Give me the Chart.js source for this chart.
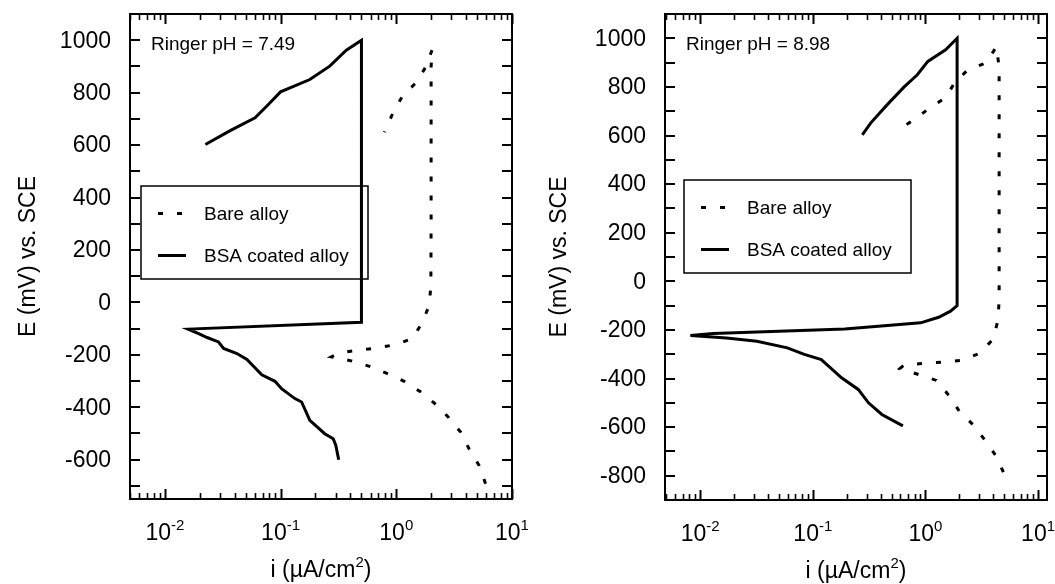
<!DOCTYPE html>
<html>
<head>
<meta charset="utf-8">
<title>Polarization curves in Ringer solution</title>
<script src="https://cdn.jsdelivr.net/npm/chart.js@4.4.0/dist/chart.umd.min.js"></script>
<style>
  html, body { margin: 0; padding: 0; background: #fff; }
  body { width: 1055px; height: 584px; position: relative; overflow: hidden; }
  canvas { position: absolute; top: 0; }
  #left { left: 0; }
  #right { left: 528px; }
</style>
</head>
<body>
<canvas id="left" width="528" height="584"></canvas>
<canvas id="right" width="527" height="584"></canvas>
<script>
// Ringer pH = 7.49
const bareI749 = [5.91, 5.19, 4.26, 3.6, 2.82, 2.2, 1.63, 1.17, 0.84, 0.588, 0.408, 0.275,
                  0.324, 0.466, 0.69, 1.0, 1.38, 1.69, 1.93, 1.99, 2.0, 2.0, 2.0, 2.05,
                  1.78, 1.48, 1.12, 0.93, 0.79];
const bareE749 = [-692, -622, -559, -495, -438, -389, -342, -301, -272, -244, -223, -208,
                  -193, -182, -174, -160, -138, -74, -10, 66, 300, 600, 900, 965,
                  895, 838, 784, 720, 649];
const bsaI749 = [0.318, 0.3, 0.285, 0.241, 0.179, 0.152, 0.133, 0.102, 0.0895, 0.0688, 0.0512,
                 0.042, 0.0322, 0.0291, 0.0232, 0.0196, 0.0159, 0.5, 0.5, 0.37, 0.266,
                 0.179, 0.1, 0.0758, 0.0602, 0.0367, 0.0224];
const bsaE749 = [-600, -545, -520, -501, -450, -380, -367, -329, -301, -276, -218,
                 -195, -176, -151, -134, -119, -102, -76, 1000, 962, 901,
                 850, 803, 748, 704, 655, 602];

// Ringer pH = 8.98
const bareI898 = [4.92, 4.18, 3.34, 2.63, 2.0, 1.61, 1.25, 0.875, 0.593, 0.644, 0.968, 1.44,
                  2.12, 3.0, 3.96, 4.39, 4.51, 4.51, 4.51, 4.51, 4.27, 3.48, 2.35, 1.82,
                  1.51, 1.09, 0.79, 0.56];
const bareE898 = [-785, -715, -651, -589, -535, -469, -408, -384, -359, -345, -338, -332,
                  -325, -297, -240, -164, -80, 200, 500, 880, 966, 900, 868, 818,
                  756, 713, 665, 620];
const bsaI898 = [0.63, 0.41, 0.312, 0.253, 0.18, 0.119, 0.084, 0.0594, 0.0319, 0.0171, 0.00819,
                 0.013, 0.192, 0.906, 1.31, 1.67, 1.91, 1.91, 1.51, 1.05, 0.846, 0.644,
                 0.458, 0.326, 0.275];
const bsaE898 = [-595, -548, -500, -445, -397, -322, -301, -274, -247, -233, -223,
                 -215, -196, -171, -148, -123, -100, 1000, 953, 905, 850, 799,
                 727, 651, 603];

// axis labels
const xDecades = [0.01, 0.1, 1, 10];
const yLabels749 = [-600, -400, -200, 0, 200, 400, 600, 800, 1000];
const yLabels898 = [-800, -600, -400, -200, 0, 200, 400, 600, 800, 1000];
const seriesNames = ['Bare alloy', 'BSA coated alloy'];

const FONT = '"Liberation Sans", Arial, Helvetica, sans-serif';

function pts(xs, ys) {
  return xs.map((v, i) => ({ x: v, y: ys[i] }));
}

function seg(ctx, x1, y1, x2, y2) {
  ctx.beginPath();
  ctx.moveTo(x1, y1);
  ctx.lineTo(x2, y2);
  ctx.stroke();
}

// draws the boxed frame with inward ticks, labels, titles, note and legend
const frame = {
  id: 'frame',
  afterDatasetsDraw(chart, args, opts) {
    const ctx = chart.ctx;
    const { left, right, top, bottom } = chart.chartArea;
    const xs = chart.scales.x, ys = chart.scales.y;
    ctx.save();
    ctx.strokeStyle = '#000';
    ctx.fillStyle = '#000';
    ctx.lineCap = 'butt';

    ctx.lineWidth = 2;
    ctx.strokeRect(left, top, right - left, bottom - top);

    // linear ticks every 100 mV on both sides
    for (let v = Math.ceil(ys.min / 100) * 100; v <= ys.max; v += 100) {
      const py = Math.round(ys.getPixelForValue(v));
      seg(ctx, left, py, left + 10, py);
      seg(ctx, right - 10, py, right, py);
    }

    // log ticks on bottom and top
    const d0 = Math.floor(Math.log10(xs.min)), d1 = Math.ceil(Math.log10(xs.max));
    for (let d = d0; d <= d1; d++) {
      for (let m = 1; m <= 9; m++) {
        const v = m * Math.pow(10, d);
        if (v < xs.min || v > xs.max) continue;
        const px = Math.round(xs.getPixelForValue(v)) + 0.5;
        const len = m === 1 ? 10 : 6;
        ctx.lineWidth = m === 1 ? 2 : 1.6;
        seg(ctx, px, bottom, px, bottom - len);
        seg(ctx, px, top, px, top + len);
      }
    }

    // y tick labels
    ctx.font = '23px ' + FONT;
    ctx.textAlign = 'right';
    ctx.textBaseline = 'middle';
    opts.yLabels.forEach(v => {
      ctx.fillText(String(v), left - 19, ys.getPixelForValue(v) + 1);
    });

    // x tick labels as powers of ten
    ctx.textAlign = 'left';
    ctx.textBaseline = 'alphabetic';
    xDecades.forEach(v => {
      const px = xs.getPixelForValue(v);
      const exp = String(Math.round(Math.log10(v)));
      ctx.font = '23px ' + FONT;
      const wb = ctx.measureText('10').width;
      ctx.font = '15px ' + FONT;
      const we = ctx.measureText(exp).width;
      const x0 = px - (wb + we) / 2;
      ctx.font = '23px ' + FONT;
      ctx.fillText('10', x0, bottom + 41);
      ctx.font = '15px ' + FONT;
      ctx.fillText(exp, x0 + wb, bottom + 31);
    });

    // x title: i (µA/cm²)
    const cx = (left + right) / 2;
    ctx.font = '23px ' + FONT;
    const t1 = 'i (\u00b5A/cm', t2 = ')';
    const w1 = ctx.measureText(t1).width, w2 = ctx.measureText(t2).width;
    ctx.font = '15px ' + FONT;
    const ws = ctx.measureText('2').width;
    const tx = cx - (w1 + ws + w2) / 2;
    ctx.font = '23px ' + FONT;
    ctx.fillText(t1, tx, bottom + 78);
    ctx.font = '15px ' + FONT;
    ctx.fillText('2', tx + w1, bottom + 68);
    ctx.font = '23px ' + FONT;
    ctx.fillText(t2, tx + w1 + ws, bottom + 78);

    // y title
    ctx.save();
    ctx.translate(left - opts.titleDx, (top + bottom) / 2);
    ctx.rotate(-Math.PI / 2);
    ctx.textAlign = 'center';
    ctx.font = '23px ' + FONT;
    ctx.fillText('E (mV) vs. SCE', 0, 0);
    ctx.restore();

    // solution note
    ctx.font = '19px ' + FONT;
    ctx.textAlign = 'left';
    ctx.fillText(opts.note, left + 21, top + 36);

    // legend
    const bx = left + opts.legendDx, by = opts.legendY;
    ctx.lineWidth = 1.5;
    ctx.strokeRect(bx, by, 227, 93);
    chart.data.datasets.forEach((ds, i) => {
      const ry = by + 27.5 + i * 42;
      ctx.lineWidth = 3;
      ctx.setLineDash(ds.borderDash || []);
      seg(ctx, bx + 17, ry, bx + 45, ry);
      ctx.setLineDash([]);
      ctx.font = '19px ' + FONT;
      ctx.fillText(ds.label, bx + 63, ry + 6.7);
    });

    ctx.restore();
  }
};

function panel(id, bare, bsa, xMin, xMax, yMin, yMax, pad, opts) {
  return new Chart(document.getElementById(id), {
    type: 'scatter',
    data: {
      datasets: [
        { label: seriesNames[0], data: bare, showLine: true, borderColor: '#000',
          borderWidth: 3, borderDash: [5, 14], pointRadius: 0, tension: 0 },
        { label: seriesNames[1], data: bsa, showLine: true, borderColor: '#000',
          borderWidth: 3, pointRadius: 0, tension: 0 }
      ]
    },
    options: {
      responsive: false,
      animation: false,
      events: [],
      layout: { padding: pad },
      scales: {
        x: { type: 'logarithmic', min: xMin, max: xMax, display: false },
        y: { type: 'linear', min: yMin, max: yMax, display: false }
      },
      plugins: {
        legend: { display: false },
        tooltip: { enabled: false },
        frame: opts
      }
    },
    plugins: [frame]
  });
}

panel('left', pts(bareI749, bareE749), pts(bsaI749, bsaE749),
  0.005, 10, -750, 1100,
  { left: 130, top: 14, right: 16, bottom: 85 },
  { yLabels: yLabels749, note: 'Ringer pH = 7.49', legendDx: 11, legendY: 186, titleDx: 95 });

panel('right', pts(bareI898, bareE898), pts(bsaI898, bsaE898),
  0.00487, 12, -900, 1100,
  { left: 137, top: 14, right: 8, bottom: 84 },
  { yLabels: yLabels898, note: 'Ringer pH = 8.98', legendDx: 19, legendY: 180, titleDx: 99 });
</script>
</body>
</html>
